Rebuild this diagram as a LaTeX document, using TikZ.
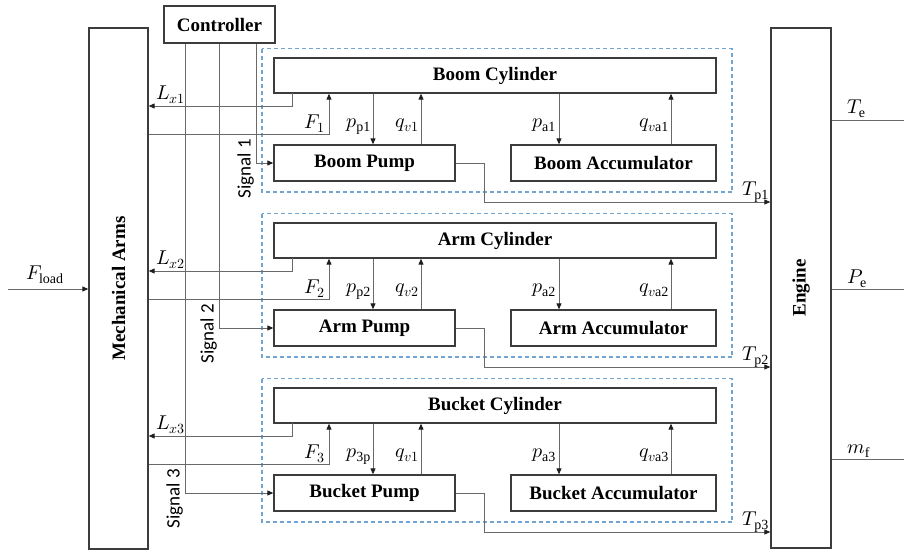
\documentclass[tikz,border=0pt]{standalone}
\usepackage{fontspec}
\usepackage{unicode-math}
\usepackage{graphicx}
\setmainfont{Liberation Serif}
\setmathfont{Latin Modern Math}
\newfontfamily\sigfont{Carlito}
\usetikzlibrary{arrows.meta}
\definecolor{boxc}{RGB}{60,60,60}
\definecolor{linec}{RGB}{105,105,105}
\definecolor{tipc}{RGB}{30,30,30}
\definecolor{dashc}{RGB}{115,165,210}
\tikzset{
  blk/.style={draw=boxc, line width=1.3pt, inner sep=0pt, font=\fontsize{19}{22}\selectfont\bfseries},
  ln/.style={draw=linec, line width=0.9pt},
  tip/.style={-{Triangle[length=6pt,width=5pt,color=tipc]}},
  lab/.style={inner sep=0pt, font=\fontsize{20}{22}\selectfont},
  sig/.style={inner sep=1pt, font=\fontsize{19}{22}\selectfont\sigfont},
  grp/.style={draw=dashc, line width=1.1pt, dash pattern=on 4pt off 3pt}
}
\begin{document}
\begin{tikzpicture}[x=1pt,y=-1pt]
\useasboundingbox (0,0) rectangle (904,552);
% main blocks
\node[blk, minimum width=59pt, minimum height=521pt] (ma) at (118.5,288.5) {\rotatebox{90}{Mechanical Arms}};
\node[blk, minimum width=60pt, minimum height=520pt] (eng) at (801,288) {\rotatebox{90}{Engine}};
\node[blk, minimum width=111pt, minimum height=37pt] (ctrl) at (219.5,24.5) {Controller};
% helper coordinates
\coordinate (fx) at (329,0);
\coordinate (ppx) at (373,0);
\coordinate (qvx) at (421,0);
\coordinate (pax) at (559,0);
\coordinate (qax) at (671,0);
% inputs / outputs
\coordinate (fin) at (8,289);
\draw[ln,tip] (fin) -- (ma.west |- fin);
\node[lab, anchor=base west] (flab) at (26,279) {$F_{\mathrm{load}}$};
\coordinate (teo) at (904,120);
\coordinate (peo) at (904,289);
\coordinate (mfo) at (904,459);
\draw[ln] (eng.east |- teo) -- (teo);
\draw[ln] (eng.east |- peo) -- (peo);
\draw[ln] (eng.east |- mfo) -- (mfo);
\node[lab, anchor=base west] (telab) at (847,113) {$T_{\mathrm{e}}$};
\node[lab, anchor=base west] (pelab) at (847,283) {$P_{\mathrm{e}}$};
\node[lab, anchor=base west] (mflab) at (847,453) {$m_{\mathrm{f}}$};
% groups
\foreach \i/\dy/\nm/\pp/\qv/\sx in {1/0/Boom/p1/v1/256, 2/165/Arm/p2/v2/219, 3/330/Bucket/3p/v1/185}{
  \draw[grp] (262,48.5+\dy) rectangle (732,192+\dy);
  \node[blk, minimum width=442pt, minimum height=35pt] (cyl\i) at (495,75.5+\dy) {\nm\ Cylinder};
  \node[blk, minimum width=181pt, minimum height=36pt] (pump\i) at (364.5,163+\dy) {\nm\ Pump};
  \node[blk, minimum width=205pt, minimum height=36pt] (acc\i) at (613.5,163+\dy) {\nm\ Accumulator};
  \coordinate (lxa\i) at (292,93+\dy);
  \coordinate (lyb\i) at (0,106+\dy);
  \coordinate (fy\i) at (0,134+\dy);
  \coordinate (tpy\i) at (0,202+\dy);
  \coordinate (sgx\i) at (\sx,0);
  \draw[ln,tip] (lxa\i) |- (ma.east |- lyb\i);
  \draw[ln,tip] (ma.east |- fy\i) -| (cyl\i.south -| fx);
  \draw[ln,tip] (cyl\i.south -| ppx) -- (pump\i.north -| ppx);
  \draw[ln,tip] (pump\i.north -| qvx) -- (cyl\i.south -| qvx);
  \draw[ln,tip] (cyl\i.south -| pax) -- (acc\i.north -| pax);
  \draw[ln,tip] (acc\i.north -| qax) -- (cyl\i.south -| qax);
  \draw[ln,tip] (pump\i.east) -- ++(29,0) |- (eng.west |- tpy\i);
  \draw[ln,tip] (ctrl.south -| sgx\i) |- (pump\i.west);
  \node[lab, anchor=base west] (llab\i) at (156,99+\dy) {$L_{x\i}$};
  \node[lab, anchor=base east] (flab\i) at (325,128+\dy) {$F_{\i}$};
  \node[lab, anchor=base east] (pplab\i) at (371,127+\dy) {$p_{\mathrm{\pp}}$};
  \node[lab, anchor=base east] (qvlab\i) at (419,127+\dy) {$q_{\qv}$};
  \node[lab, anchor=base east] (palab\i) at (556,127+\dy) {$p_{\mathrm{a\i}}$};
  \node[lab, anchor=base east] (qalab\i) at (669,127+\dy) {$q_{v\mathrm{a\i}}$};
  \node[lab, anchor=base east] (tplab\i) at (769,195+\dy) {$T_{\mathrm{p\i}}$};
  \node[sig, rotate=90, anchor=south] (slab\i) at (\sx-1,169+\dy) {Signal \i};
}
\end{tikzpicture}
\end{document}
